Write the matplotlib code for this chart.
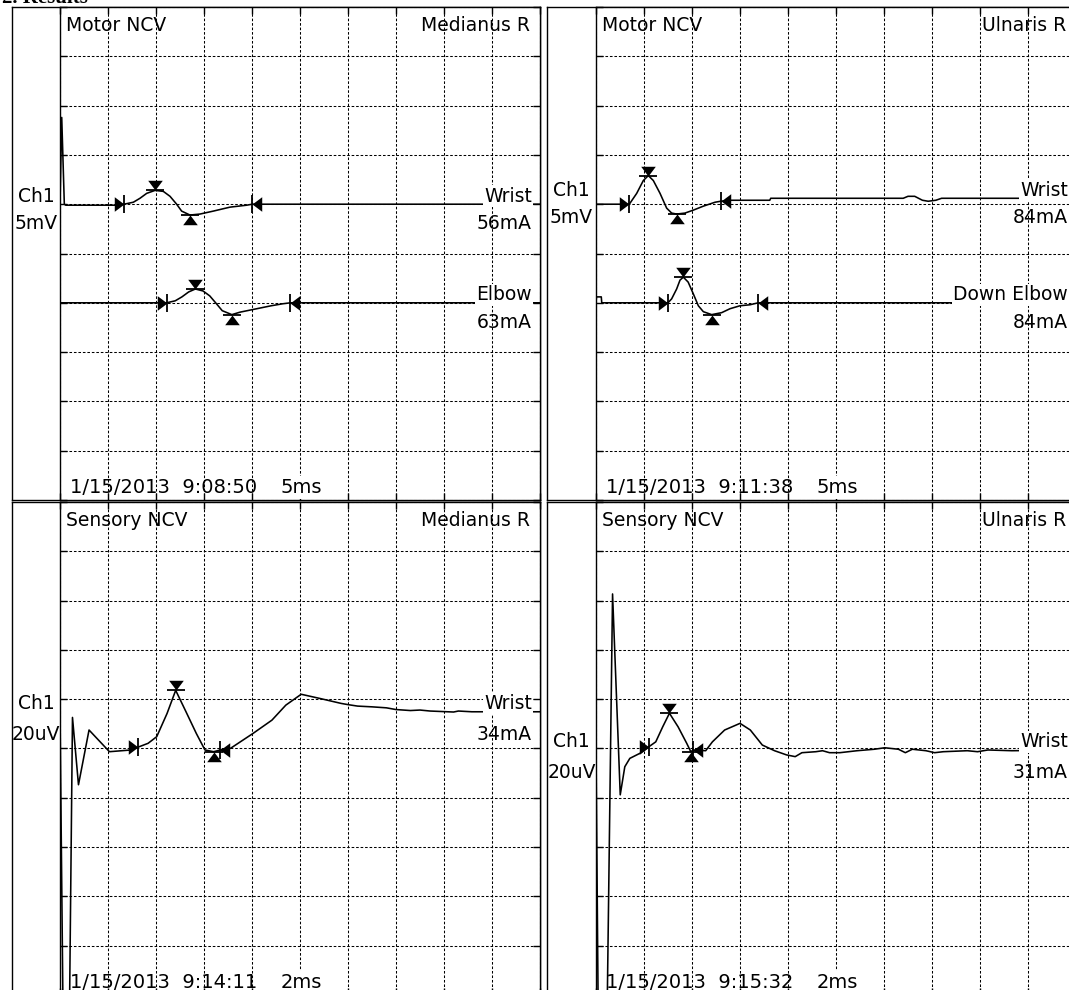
import numpy as np
import matplotlib
matplotlib.use('Agg')
import matplotlib.pyplot as plt

plt.rcParams['font.family'] = ['DejaVu Sans']
plt.rcParams['font.size'] = 13.5

# ---- traces (time in ms, amplitude in mV or uV) ----
# Motor NCV, Medianus R
mm_wrist_t = [0, 0.18, 0.45, 0.6, 6.0, 6.67, 7.64, 8.33, 9.03, 9.9, 10.76, 11.46, 12.15, 12.67,
              13.54, 14.58, 15.97, 17.7, 19.45, 20.03, 50]
mm_wrist_v = [0, 8.8, 0, -0.1, -0.1, 0, 0.2, 0.6, 1.1, 1.4, 1.3, 0.8, 0, -0.7,
              -1.1, -1.0, -0.7, -0.3, -0.1, 0, 0]
mm_wrist_marks = [6.67, 9.9, 13.54, 20.03]

mm_elbow_t = [0, 11.1, 12.0, 12.7, 13.4, 14.1, 14.9, 15.6, 16.3, 16.9, 17.9, 18.75, 20.5,
              22.0, 23.2, 24.0, 50]
mm_elbow_v = [0, 0, 0.2, 0.6, 1.1, 1.4, 1.2, 0.7, -0.1, -0.8, -1.2, -0.95, -0.6,
              -0.3, -0.1, 0, 0]
mm_elbow_marks = [11.1, 14.1, 17.9, 24.0]

# Motor NCV, Ulnaris R
um_wrist_t = [0, 3.44, 3.54, 4.24, 4.93, 5.45, 5.97, 6.67, 7.36, 7.88, 8.4, 9.27, 10.14, 11.18,
              12.4, 12.99, 13.96, 18.1, 18.2, 32.0, 32.5, 33.2, 34.0, 34.6, 35.4, 36.0, 50]
um_wrist_v = [0, 0, 0.1, 1.1, 2.4, 2.9, 2.4, 1.1, -0.4, -0.9, -1.0, -0.9, -0.6, -0.2,
              0.2, 0.3, 0.4, 0.4, 0.6, 0.6, 0.8, 0.8, 0.4, 0.3, 0.4, 0.6, 0.6]
um_wrist_marks = [3.44, 5.45, 8.4, 12.99]

um_elbow_t = [0, 0.05, 0.55, 0.6, 7.5, 7.88, 8.4, 8.75, 9.1, 9.6, 10.14, 10.66, 11.18, 12.05,
              13.09, 13.96, 15.0, 16.04, 16.9, 50]
um_elbow_v = [0, 0.6, 0.6, 0, 0, 0.4, 1.4, 2.3, 2.6, 2.1, 0.9, -0.3, -0.9, -1.2,
              -1.0, -0.6, -0.3, -0.2, 0, 0]
um_elbow_marks = [7.5, 9.1, 12.05, 16.9]

# Sensory NCV, Medianus R
ms_wrist_t = [0, 0.16, 0.36, 0.52, 0.77, 1.21, 2.06, 2.96, 3.24, 3.67, 4.03, 4.46, 4.82, 5.25,
              5.68, 6.04, 6.40, 6.68, 7.11, 8.04, 8.83, 9.41, 10.05, 10.83, 11.71, 12.0, 12.4,
              13.0, 13.6, 14.0, 14.6, 15.0, 15.42, 16.4, 16.6, 17.16, 20.0]
ms_wrist_v = [14.9, -140, -140, 12.6, -14.7, 7.5, -1.3, -0.6, 0.5, 2.1, 4.8, 14.2, 23.6, 14.9,
              6.1, -0.6, -1.3, -0.6, 0.1, 6.1, 11.5, 17.6, 22.0, 20.3, 18.3, 17.8, 17.2,
              16.9, 16.5, 15.8, 15.4, 15.6, 15.2, 14.8, 15.2, 14.9, 14.9]
ms_wrist_marks = [3.24, 4.82, 6.40, 6.68]

# Sensory NCV, Ulnaris R
us_wrist_t = [0, 0.12, 0.42, 0.69, 1.01, 1.2, 1.41, 1.84, 2.2, 2.49, 2.78, 3.06, 3.42, 3.78,
              3.95, 4.05, 4.57, 4.85, 5.36, 6.0, 6.43, 6.93, 7.44, 7.94, 8.3, 8.58, 9.16, 9.44,
              9.73, 10.16, 10.88, 11.6, 12.03, 12.6, 12.89, 13.18, 13.75, 14.11, 14.47, 15.47,
              15.9, 16.33, 17.33, 20.0]
us_wrist_v = [0, -140, -140, 62.7, -18.8, -7.4, -4.0, -1.9, 0.7, 2.7, 8.8, 14.3, 8.8, 2.1,
              -1.3, -0.6, -0.9, 2.7, 7.5, 10.2, 7.5, 1.4, -0.9, -2.6, -3.3, -1.7, -1.3, -0.9,
              -1.7, -1.7, -0.9, -0.3, 0.3, -0.3, -1.7, -0.3, -0.9, -1.7, -1.3, -0.9,
              -1.3, -0.6, -0.9, -0.6]
us_wrist_marks = [2.2, 3.06, 3.95, 4.05]

# ---- layout (pixels of the 1069x990 page) ----
W, H = 1069, 990
panels = [
    dict(frame=(12, 7, 540, 500), plot_x=60, test='Motor NCV', nerve='Medianus R',
         ms_div=5, amp_div=5, amp_label='5mV', stamp='1/15/2013  9:08:50', speed='5ms', gap=25,
         traces=[(mm_wrist_t, mm_wrist_v, mm_wrist_marks, 'Wrist', '56mA', 6),
                 (mm_elbow_t, mm_elbow_v, mm_elbow_marks, 'Elbow', '63mA', 4)]),
    dict(frame=(547, 7, 1076, 500), plot_x=596, test='Motor NCV', nerve='Ulnaris R',
         ms_div=5, amp_div=5, amp_label='5mV', stamp='1/15/2013  9:11:38', speed='5ms', gap=25,
         traces=[(um_wrist_t, um_wrist_v, um_wrist_marks, 'Wrist', '84mA', 6),
                 (um_elbow_t, um_elbow_v, um_elbow_marks, 'Down Elbow', '84mA', 4)]),
    dict(frame=(12, 502, 540, 995), plot_x=60, test='Sensory NCV', nerve='Medianus R',
         ms_div=2, amp_div=20, amp_label='20uV', stamp='1/15/2013  9:14:11', speed='2ms', gap=28,
         traces=[(ms_wrist_t, ms_wrist_v, ms_wrist_marks, 'Wrist', '34mA', 5)]),
    dict(frame=(547, 502, 1076, 995), plot_x=596, test='Sensory NCV', nerve='Ulnaris R',
         ms_div=2, amp_div=20, amp_label='20uV', stamp='1/15/2013  9:15:32', speed='2ms', gap=28,
         traces=[(us_wrist_t, us_wrist_v, us_wrist_marks, 'Wrist', '31mA', 5)]),
]

# marker shapes: tip at the origin
TRI_R = [(-1, -0.75), (0, 0), (-1, 0.75), (-1, -0.75)]
TRI_L = [(1, -0.75), (0, 0), (1, 0.75), (1, -0.75)]
TRI_D = [(-0.75, 1), (0, 0), (0.75, 1), (-0.75, 1)]
TRI_U = [(-0.75, -1), (0, 0), (0.75, -1), (-0.75, -1)]


def rect(x0, y0, x1, y1):
    return [x0 / W, 1 - y1 / H, (x1 - x0) / W, (y1 - y0) / H]


def mark(ax, x, y, tri, bar):
    ax.plot([x], [y], ls='none', marker=tri, ms=14, mew=0, color='black', zorder=4)
    ax.plot([x], [y], ls='none', marker=bar, ms=13, mew=1.3, color='black', zorder=4)


fig = plt.figure(figsize=(W / 100, H / 100), dpi=100)
fig.patch.set_facecolor('white')
fig.text(2 / W, 1 - 3 / H, '2. Results', family='Liberation Serif', fontweight='bold',
         fontsize=15, va='baseline')

for p in panels:
    x0, y0, x1, y1 = p['frame']
    frame = fig.add_axes(rect(x0, y0, x1, y1))
    frame.set_xticks([])
    frame.set_yticks([])
    for s in frame.spines.values():
        s.set_linewidth(1)

    ax = fig.add_axes(rect(p['plot_x'], y0, x1, y1))
    b0 = p['traces'][0][5]
    amp = p['amp_div']
    ax.set_xlim(0, 10 * p['ms_div'])
    ax.set_ylim(-b0 * amp, (10 - b0) * amp)
    ax.set_xticks(np.arange(0, 10 * p['ms_div'] + 1e-9, p['ms_div']))
    ax.set_yticks(np.linspace(-b0 * amp, (10 - b0) * amp, 11))
    ax.grid(True, color='black', lw=0.75, ls=(0, (2.5, 1.8)))
    ax.tick_params(direction='in', length=5, width=1, top=True, right=True,
                   labelbottom=False, labelleft=False)
    for s in ax.spines.values():
        s.set_linewidth(1)

    for t, v, marks, site, cur, b in p['traces']:
        off = (b - b0) * amp
        vv = np.array(v) + off
        ax.plot(t, vv, color='black', lw=1.15, zorder=3)
        on, pk, tr, en = marks
        at = lambda x: np.interp(x, t, vv)
        mark(ax, on, at(on), TRI_R, '|')
        mark(ax, pk, at(pk), TRI_D, '_')
        mark(ax, tr, at(tr), TRI_U, '_')
        mark(ax, en, at(en), TRI_L, '|')
        lvl = vv[-1]
        ax.annotate(site, xy=(1, lvl), xycoords=('axes fraction', 'data'),
                    xytext=(-8, 2.5), textcoords='offset pixels', ha='right', va='baseline',
                    bbox=dict(fc='white', ec='none', pad=1.0), zorder=5)
        ax.annotate(cur, xy=(1, lvl), xycoords=('axes fraction', 'data'),
                    xytext=(-8, -p['gap']), textcoords='offset pixels', ha='right',
                    va='baseline', zorder=5)

    # channel label column, level with the first trace's label
    lvl0 = p['traces'][0][1][-1]
    colw = p['plot_x'] - x0
    ax.annotate('Ch1', xy=(0, lvl0), xycoords=('axes fraction', 'data'),
                xytext=(-colw / 2, 2.5), textcoords='offset pixels', ha='center',
                va='baseline', annotation_clip=False)
    ax.annotate(p['amp_label'], xy=(0, lvl0), xycoords=('axes fraction', 'data'),
                xytext=(-colw / 2, -p['gap']), textcoords='offset pixels', ha='center',
                va='baseline', annotation_clip=False)

    ax.annotate(p['test'], xy=(0, 1), xycoords='axes fraction', xytext=(6, -24),
                textcoords='offset pixels', ha='left', va='baseline')
    ax.annotate(p['nerve'], xy=(1, 1), xycoords='axes fraction', xytext=(-10, -24),
                textcoords='offset pixels', ha='right', va='baseline')
    ax.annotate(p['stamp'], xy=(0, 0), xycoords='axes fraction', xytext=(10, 7),
                textcoords='offset pixels', ha='left', va='baseline', fontsize=14)
    ax.annotate(p['speed'], xy=(0, 0), xycoords='axes fraction', xytext=(221, 7),
                textcoords='offset pixels', ha='left', va='baseline', fontsize=14,
                bbox=dict(fc='white', ec='none', pad=1.5))

fig.savefig('out.png', dpi=100)
